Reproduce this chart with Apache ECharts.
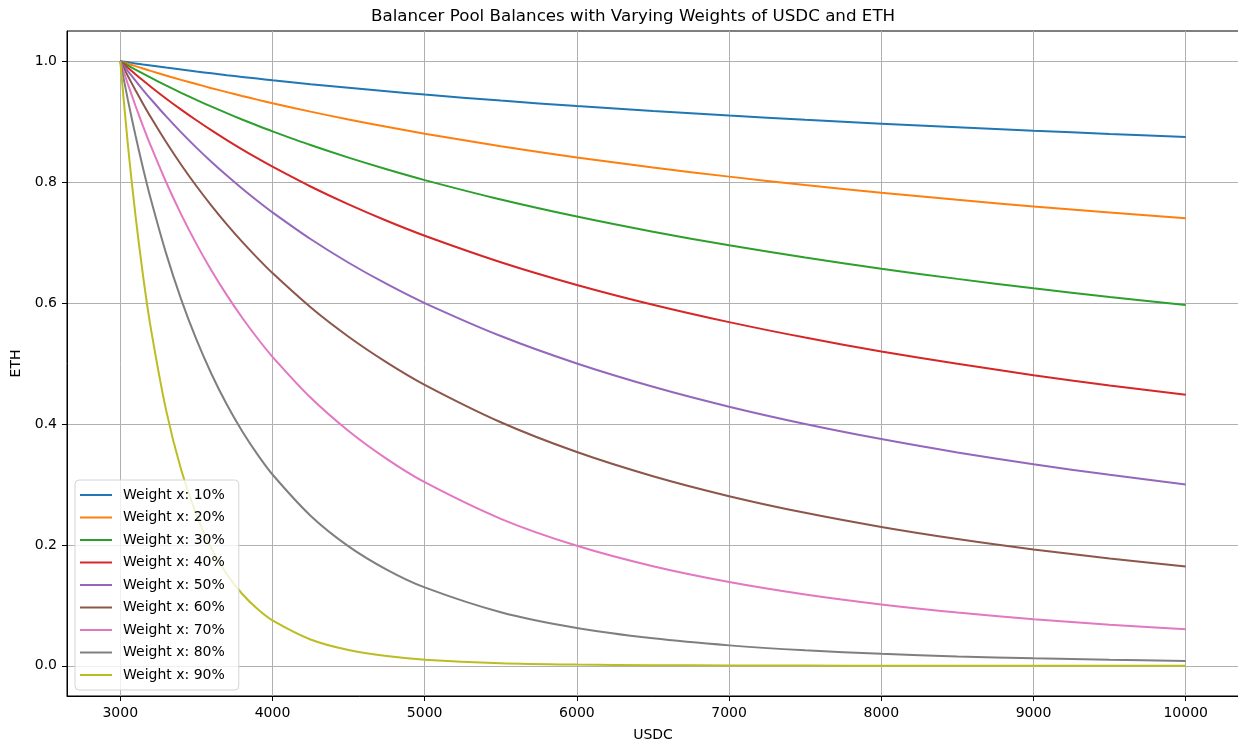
<!DOCTYPE html>
<html>
<head>
<meta charset="utf-8">
<script src="https://cdn.jsdelivr.net/npm/echarts@6/dist/echarts.min.js"></script>
<style>
html,body{margin:0;padding:0;background:#fff;}
#chart{width:1238px;height:742px;}
</style>
</head>
<body>
<div id="chart"></div>
<script>
const usdc = [3000,3050,3100,3150,3200,3300,3400,3500,3600,3700,3800,3900,4000,4250,4500,4750,5000,5500,6000,6500,7000,7500,8000,8500,9000,9500,10000];
const w10 = [1,0.99817,0.99636,0.99459,0.99285,0.98947,0.98619,0.98302,0.97995,0.97697,0.97408,0.97127,0.96854,0.96204,0.95595,0.95022,0.94482,0.93487,0.92587,0.91768,0.91015,0.90320,0.89675,0.89073,0.88509,0.87979,0.87479];
const w20 = [1,0.99588,0.99184,0.98788,0.98400,0.97645,0.96919,0.96220,0.95544,0.94892,0.94262,0.93651,0.93061,0.91661,0.90360,0.89147,0.88011,0.85939,0.84090,0.82424,0.80911,0.79527,0.78254,0.77077,0.75984,0.74963,0.74008];
const w30 = [1,0.99294,0.98605,0.97931,0.97272,0.95998,0.94777,0.93607,0.92484,0.91404,0.90365,0.89365,0.88401,0.86133,0.84049,0.82124,0.80338,0.77123,0.74300,0.71794,0.69550,0.67523,0.65681,0.63997,0.62448,0.61018,0.59691];
const w40 = [1,0.98904,0.97838,0.96800,0.95789,0.93844,0.91994,0.90234,0.88555,0.86952,0.85420,0.83953,0.82548,0.79278,0.76314,0.73613,0.71138,0.66758,0.62996,0.59723,0.56843,0.54288,0.52002,0.49942,0.48075,0.46373,0.44814];
const w50 = [1,0.98361,0.96774,0.95238,0.9375,0.90909,0.88235,0.85714,0.83333,0.81081,0.78947,0.76923,0.75,0.70588,0.66667,0.63158,0.6,0.54545,0.5,0.46154,0.42857,0.4,0.375,0.35294,0.33333,0.31579,0.3];
const w60 = [1,0.97551,0.95201,0.92943,0.90773,0.86679,0.82883,0.79356,0.76073,0.73010,0.70147,0.67466,0.64952,0.59306,0.54433,0.50193,0.46476,0.40285,0.35355,0.31355,0.28057,0.25298,0.22964,0.20968,0.19245,0.17746,0.16432];
const w70 = [1,0.96217,0.92634,0.89240,0.86020,0.80060,0.74673,0.69790,0.65350,0.61303,0.57604,0.54217,0.51107,0.44365,0.38826,0.34224,0.30364,0.24309,0.19843,0.16462,0.13848,0.11789,0.10141,0.08803,0.07704,0.06791,0.06025];
const w80 = [1,0.93602,0.87708,0.82270,0.77248,0.68301,0.60614,0.53978,0.48225,0.43219,0.38846,0.35013,0.31641,0.24827,0.19753,0.15912,0.1296,0.08852,0.0625,0.04538,0.03374,0.0256,0.01978,0.01552,0.01235,0.00995,0.0081];
const w90 = [1,0.86178,0.74445,0.64461,0.55942,0.42410,0.32418,0.24973,0.19381,0.15145,0.11914,0.09430,0.07508,0.04351,0.02601,0.01599,0.01008,0.00427,0.00195,0.00095,0.00049,0.00026,0.00015,0.00009,0.00005,0.00003,0.00002];
const seriesNames = ['Weight x: 10%','Weight x: 20%','Weight x: 30%','Weight x: 40%','Weight x: 50%','Weight x: 60%','Weight x: 70%','Weight x: 80%','Weight x: 90%'];
const seriesValues = [w10,w20,w30,w40,w50,w60,w70,w80,w90];
const xTicks = [3000,4000,5000,6000,7000,8000,9000,10000];
const yTicks = [0,0.2,0.4,0.6,0.8,1.0];
const colors = ['#1f77b4','#ff7f0e','#2ca02c','#d62728','#9467bd','#8c564b','#e377c2','#7f7f7f','#bcbd22'];

const FONT = 'DejaVu Sans';
const chart = echarts.init(document.getElementById('chart'), null, {renderer:'canvas'});
chart.setOption({
  animation: false,
  backgroundColor: '#ffffff',
  color: colors,
  title: {
    text: 'Balancer Pool Balances with Varying Weights of USDC and ETH',
    left: 371, top: 8, padding: 0,
    textStyle: {fontFamily: FONT, fontSize: 16.7, fontWeight: 'normal', color: '#000'}
  },
  grid: {
    left: 67, top: 31, width: 1172, height: 665,
    show: true, borderColor: '#000', borderWidth: 1, backgroundColor: 'transparent',
    containLabel: false,
    outerBoundsMode: 'none'
  },
  legend: {
    orient: 'vertical',
    left: 75, top: 480,
    icon: 'rect', itemWidth: 32, itemHeight: 2, itemGap: 6.5,
    padding: [7, 14, 7, 5],
    backgroundColor: 'rgba(255,255,255,0.8)',
    borderColor: '#d4d4d4', borderWidth: 1, borderRadius: 4,
    textStyle: {fontFamily: FONT, fontSize: 14, color: '#000', lineHeight: 16, padding: [0,0,0,6]},
    data: seriesNames
  },
  xAxis: {
    type: 'value', min: 2650, max: 10350,
    name: 'USDC', nameLocation: 'middle', nameGap: 32,
    nameTextStyle: {fontFamily: FONT, fontSize: 14, color: '#000'},
    axisLine: {show: true, onZero: false, lineStyle: {color: '#000', width: 1}},
    axisTick: {show: true, length: 5, inside: false, lineStyle: {color: '#000', width: 1}, customValues: xTicks},
    axisLabel: {show: true, margin: 10, fontFamily: FONT, fontSize: 14, color: '#000', customValues: xTicks, formatter: v => String(v)},
    splitLine: {show: true, lineStyle: {color: '#b0b0b0', width: 1}}
  },
  yAxis: {
    type: 'value', min: -0.05, max: 1.05,
    name: 'ETH', nameLocation: 'middle', nameGap: 39, nameRotate: 90,
    nameTextStyle: {fontFamily: FONT, fontSize: 14, color: '#000'},
    axisLine: {show: true, onZero: false, lineStyle: {color: '#000', width: 1}},
    axisTick: {show: true, length: 5, inside: false, lineStyle: {color: '#000', width: 1}, customValues: yTicks},
    axisLabel: {show: true, margin: 10, fontFamily: FONT, fontSize: 14, color: '#000', customValues: yTicks, formatter: v => v.toFixed(1)},
    splitLine: {show: true, lineStyle: {color: '#b0b0b0', width: 1}}
  },
  series: seriesNames.map((name, i) => ({
    name: name,
    type: 'line',
    symbol: 'none',
    showSymbol: false,
    smooth: 0.3,
    lineStyle: {width: 2, color: colors[i]},
    itemStyle: {color: colors[i]},
    data: usdc.map((x, j) => [x, seriesValues[i][j]])
  }))
});
</script>
</body>
</html>
